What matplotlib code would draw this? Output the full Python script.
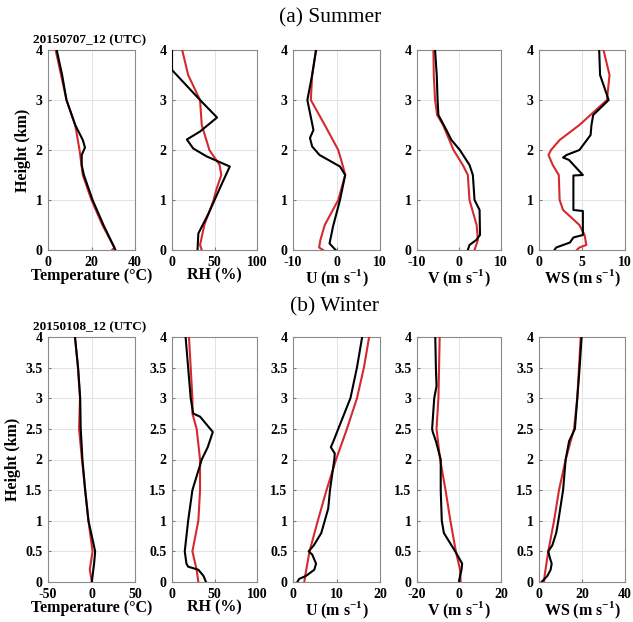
import matplotlib
matplotlib.use("Agg")
import matplotlib.pyplot as plt
import numpy as np

plt.rcParams["font.family"] = "Liberation Serif"
plt.rcParams["mathtext.fontset"] = "custom"
plt.rcParams["mathtext.rm"] = "Liberation Serif"
plt.rcParams["mathtext.bf"] = "Liberation Serif:bold"
plt.rcParams["axes.unicode_minus"] = False

RED = "#d42a2e"

# ---- summer (a) ----
s_t_obs_h = [0, 0.05, 0.5, 1.0, 1.5, 1.7, 1.9, 2.05, 2.2, 2.5, 3.0, 3.5, 4.0]
s_t_obs = [31, 30.5, 25.5, 20.5, 16.5, 15.5, 15.5, 17, 16, 12.5, 8.5, 6.5, 4]
s_t_mod_h = [0, 0.05, 0.5, 1.0, 1.5, 2.0, 2.5, 3.0, 3.5, 4.0]
s_t_mod = [29.5, 30.5, 25, 20, 16, 14.5, 12.5, 8.5, 6, 3.5]

s_rh_obs_h = [0, 0.33, 0.73, 1.3, 1.67, 1.87, 2.03, 2.21, 2.37, 2.65, 3.0, 3.6, 4.0]
s_rh_obs = [30, 31, 43, 58, 68, 41, 25, 17.5, 33, 53, 33, 0, 0]
s_rh_mod_h = [0, 0.1, 0.5, 1.0, 1.2, 1.5, 1.7, 2.0, 2.5, 2.75, 3.0, 3.5, 4.0]
s_rh_mod = [35, 33, 38, 49, 52, 58, 56, 44, 35, 34, 33, 19, 12]

s_u_obs_h = [0, 0.13, 0.47, 1.0, 1.5, 1.67, 1.9, 2.07, 2.24, 2.4, 3.0, 3.5, 4.0]
s_u_obs = [-0.2, -1.6, -0.8, 0.8, 2, 0.8, -3.9, -5.6, -6.1, -5.3, -6.7, -5.6, -4.7]
s_u_mod_h = [0, 0.05, 0.2, 0.5, 1.0, 1.5, 1.7, 2.0, 2.5, 3.0, 3.5, 4.0]
s_u_mod = [-3.1, -4, -3.7, -2.7, 0.4, 2, 1.4, 0.4, -2.7, -5.9, -5.6, -4.7]

s_v_obs_h = [0, 0.1, 0.2, 0.3, 0.8, 1.0, 1.5, 1.7, 2.0, 2.2, 2.4, 2.7, 3.0, 3.5, 4.0]
s_v_obs = [2.1, 2.5, 4.1, 5, 4.9, 3.7, 3.3, 2.5, 0.2, -1.8, -3, -4.9, -5.1, -5.3, -5.7]
s_v_mod_h = [0, 0.2, 0.5, 1.0, 1.5, 1.7, 2.0, 2.5, 2.7, 3.0, 3.5, 4.0]
s_v_mod = [3.7, 4.5, 4.2, 2.5, 2.1, 0.9, -1.3, -3.8, -5.2, -5.7, -6, -6.1]

s_ws_obs_h = [0, 0.05, 0.15, 0.25, 0.3, 0.78, 0.8, 1.49, 1.5, 1.8, 1.85, 1.9, 2.0, 2.3, 2.5, 2.7, 3.0, 3.5, 4.0]
s_ws_obs = [1.8, 2, 3.6, 4, 5.1, 5.1, 4, 4, 5.1, 3.5, 2.8, 3.2, 4.7, 6, 6.1, 6.3, 8.1, 7.1, 7]
s_ws_mod_h = [0, 0.05, 0.1, 0.3, 0.5, 0.8, 1.0, 1.5, 1.7, 1.9, 2.0, 2.2, 2.5, 3.0, 3.5, 4.0]
s_ws_mod = [4.4, 4.7, 5.5, 5.3, 4.7, 2.8, 2.4, 2.3, 1.6, 1.1, 1.4, 2.4, 4.7, 7.9, 8.2, 7.5]

# ---- winter (b) ----
w_t_obs_h = [0, 0.1, 0.3, 0.5, 1.0, 1.5, 2.0, 2.5, 3.0, 3.5, 4.0]
w_t_obs = [0.4, 1.2, 3, 4.2, -3.5, -7.3, -10.4, -12.4, -13, -15.4, -19]
w_t_mod_h = [0, 0.2, 0.5, 1.0, 2.0, 2.5, 3.0, 3.5, 4.0]
w_t_mod = [0.4, -2, 1.2, -3.5, -11, -14.3, -13.2, -15.6, -19]

w_rh_obs_h = [0, 0.1, 0.2, 0.25, 0.3, 0.5, 1.0, 1.5, 2.0, 2.2, 2.45, 2.7, 2.75, 3.0, 3.5, 4.0]
w_rh_obs = [40, 37, 31, 19, 17, 15, 19, 24, 35, 42, 48, 33, 25, 22, 19, 16]
w_rh_mod_h = [0, 0.2, 0.5, 1.0, 1.5, 2.0, 2.5, 2.75, 3.0, 3.5, 4.0]
w_rh_mod = [31, 29, 24, 31, 33, 33, 29, 24, 24, 22, 20]

w_u_obs_h = [0, 0.05, 0.1, 0.2, 0.3, 0.45, 0.5, 0.6, 0.8, 1.0, 1.2, 1.5, 2.0, 2.1, 2.2, 2.3, 2.5, 3.0, 3.5, 4.0]
w_u_obs = [1, 1.4, 3, 4.9, 5.3, 4.4, 3.6, 4.8, 6.5, 7.3, 8.1, 8.5, 9.5, 9.6, 8.7, 9.3, 10.4, 13.2, 14.7, 15.9]
w_u_mod_h = [0, 0.1, 0.5, 1.0, 1.5, 2.0, 2.5, 3.0, 3.5, 4.0]
w_u_mod = [2.6, 2.8, 3.8, 5.7, 7.7, 9.9, 12.4, 14.7, 16.3, 17.5]

w_v_obs_h = [0, 0.05, 0.2, 0.3, 0.5, 0.8, 1.0, 1.5, 2.0, 2.3, 2.45, 2.5, 3.0, 3.2, 3.5, 4.0]
w_v_obs = [0, 0.2, 1.2, 1.5, -1.8, -7.2, -8.2, -8.7, -8.7, -11, -12.5, -12.8, -11.8, -10.7, -11, -11.3]
w_v_mod_h = [0, 0.2, 0.5, 1.0, 1.5, 2.0, 2.5, 3.0, 3.5, 4.0]
w_v_mod = [0.8, 0.5, -1.5, -4.1, -6.4, -9, -10.7, -9.8, -9.5, -9.2]

w_ws_obs_h = [0, 0.1, 0.2, 0.3, 0.4, 0.5, 0.6, 0.8, 1.0, 1.5, 2.0, 2.3, 2.5, 3.0, 3.5, 4.0]
w_ws_obs = [1.2, 3.9, 5.4, 5.9, 5, 4.3, 6.2, 8, 9, 11.2, 12.4, 14, 16.7, 17.8, 18.9, 19.8]
w_ws_mod_h = [0, 0.1, 0.5, 1.0, 1.5, 2.0, 2.5, 3.0, 3.5, 4.0]
w_ws_mod = [2.3, 2.6, 4.3, 7, 9.3, 12.4, 16.3, 17.8, 18.6, 19.4]

summer = [
    (s_t_obs_h, s_t_obs, s_t_mod_h, s_t_mod, (0, 40), [0, 20, 40], "Temperature (\u00b0C)"),
    (s_rh_obs_h, s_rh_obs, s_rh_mod_h, s_rh_mod, (0, 100), [0, 50, 100], "RH (%)"),
    (s_u_obs_h, s_u_obs, s_u_mod_h, s_u_mod, (-10, 10), [-10, 0, 10], r"U (m s$^{\mathbf{-1}}$)"),
    (s_v_obs_h, s_v_obs, s_v_mod_h, s_v_mod, (-10, 10), [-10, 0, 10], r"V (m s$^{\mathbf{-1}}$)"),
    (s_ws_obs_h, s_ws_obs, s_ws_mod_h, s_ws_mod, (0, 10), [0, 5, 10], r"WS (m s$^{\mathbf{-1}}$)"),
]
winter = [
    (w_t_obs_h, w_t_obs, w_t_mod_h, w_t_mod, (-50, 50), [-50, 0, 50], "Temperature (\u00b0C)"),
    (w_rh_obs_h, w_rh_obs, w_rh_mod_h, w_rh_mod, (0, 100), [0, 50, 100], "RH (%)"),
    (w_u_obs_h, w_u_obs, w_u_mod_h, w_u_mod, (0, 20), [0, 10, 20], r"U (m s$^{\mathbf{-1}}$)"),
    (w_v_obs_h, w_v_obs, w_v_mod_h, w_v_mod, (-20, 20), [-20, 0, 20], r"V (m s$^{\mathbf{-1}}$)"),
    (w_ws_obs_h, w_ws_obs, w_ws_mod_h, w_ws_mod, (0, 40), [0, 20, 40], r"WS (m s$^{\mathbf{-1}}$)"),
]

W, H = 633, 622
fig = plt.figure(figsize=(W / 100, H / 100), dpi=100)

lefts = [48, 172, 293, 417, 539]
widths = [87, 85, 87, 84, 86]


def draw_row(panels, top, bottom, yticks, ytl, date):
    for i, (oh, ov, mh, mv, xl, xt, lab) in enumerate(panels):
        ax = fig.add_axes([lefts[i] / W, 1 - bottom / H, widths[i] / W, (bottom - top) / H])
        ax.plot(mv, mh, color=RED, lw=1.5, zorder=3)
        ax.plot(ov, oh, color="black", lw=1.5, zorder=4)
        ax.set_xlim(xl)
        ax.set_ylim(0, 4)
        ax.set_xticks(xt)
        ax.set_yticks(yticks)
        ax.set_yticklabels(ytl)
        ax.grid(True, color="#e3e3e3", lw=0.7)
        ax.set_axisbelow(True)
        ax.tick_params(direction="in", length=2.5, color="#777777", labelsize=10)
        ax.tick_params(axis="x", pad=4.5)
        ax.tick_params(axis="y", pad=4)
        for t in ax.get_xticklabels() + ax.get_yticklabels():
            t.set_fontweight("bold")
        for sp in ax.spines.values():
            sp.set_color("#8a8a8a")
            sp.set_linewidth(0.8)
        ax.set_xlabel(lab, fontsize=11.5, fontweight="bold", labelpad=-1)
        if i == 0:
            ax.set_ylabel("Height (km)", fontsize=11.5, fontweight="bold", labelpad=3)
            ax.set_title(date, fontsize=9.5, fontweight="bold", pad=5, x=0.48)


draw_row(summer, 50, 250, [0, 1, 2, 3, 4], ["0", "1", "2", "3", "4"], "20150707_12 (UTC)")
draw_row(winter, 337, 582, [0, 0.5, 1, 1.5, 2, 2.5, 3, 3.5, 4],
         ["0", "0.5", "1", "1.5", "2", "2.5", "3", "3.5", "4"], "20150108_12 (UTC)")

fig.text(330 / W, 1 - 18 / H, "(a) Summer", ha="center", va="center", fontsize=15.5)
fig.text(335 / W, 1 - 307 / H, "(b) Winter", ha="center", va="center", fontsize=15.5)

fig.savefig("out.png", dpi=100, facecolor="white")
